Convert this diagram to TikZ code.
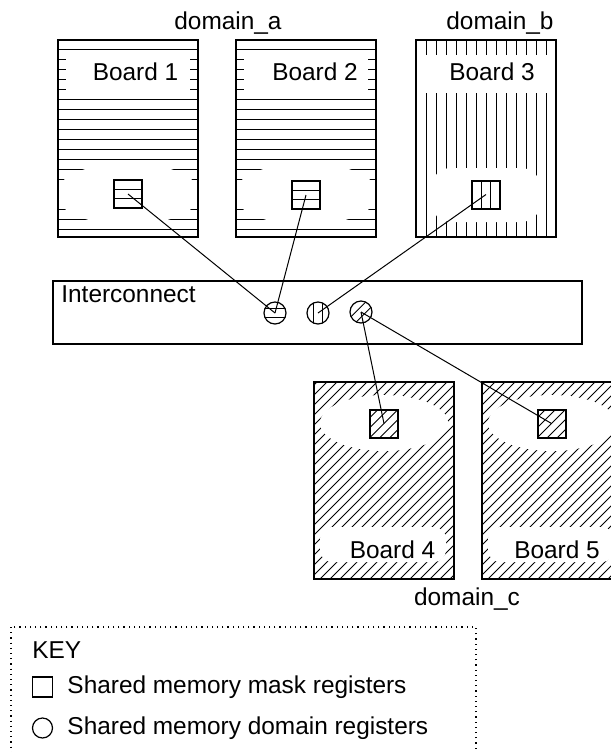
\documentclass[tikz,border=0pt]{standalone}
\usepackage{fontspec}
\setmainfont{Liberation Sans}
\usetikzlibrary{positioning}
\tikzset{%
  hatch/.style={line width=.45pt},%
  wire/.style={line width=.5pt},%
  board/.style={draw,line width=1pt,inner sep=0pt,minimum width=70pt,minimum height=98.5pt},%
  reg/.style={draw,fill=white,line width=1pt,inner sep=0pt,minimum size=14pt},%
  dom/.style={draw,circle,fill=white,line width=.6pt,inner sep=0pt,minimum size=11pt},%
  hlines/.style={path picture={%
    \foreach \d in {-2.4,2.4}
      \draw[hatch] ([yshift=\d pt]path picture bounding box.west) -- ([yshift=\d pt]path picture bounding box.east);}},%
  vlines/.style={path picture={%
    \foreach \d in {-2.4,2.4}
      \draw[hatch] ([xshift=\d pt]path picture bounding box.north) -- ([xshift=\d pt]path picture bounding box.south);}},%
  dlines/.style={path picture={%
    \foreach \d in {-10,-5,...,10}
      \draw[hatch] ([xshift=\d pt]path picture bounding box.center) +(-9pt,-9pt) -- +(9pt,9pt);}},%
  dlines2/.style={path picture={%
    \foreach \d in {-2.6,2.6}
      \draw[hatch] ([xshift=\d pt]path picture bounding box.center) +(-6pt,-6pt) -- +(6pt,6pt);}},%
}
\begin{document}
\begin{tikzpicture}[x=.5pt,y=-.5pt]%
        \useasboundingbox (0,0) rectangle (611,752); %%
        \tikzset{every node/.style={font=\fontsize{12.2}{14.5}\selectfont}} %%
        % board hatching
        \begin{scope}
        \clip (58,40) rectangle (198,237); %%
        \foreach \y in {49,59,...,229} \draw[hatch] (58,\y) -- (198,\y); %%
        \fill[white] (66,54) rectangle (190,94); %%
        \fill[white] (128,194) ellipse [x radius=36pt,y radius=15.5pt]; %%
        \end{scope}
        \begin{scope}
        \clip (236,40) rectangle (376,237); %%
        \foreach \y in {49,59,...,229} \draw[hatch] (236,\y) -- (376,\y); %%
        \fill[white] (244,54) rectangle (368,94); %%
        \fill[white] (306,194) ellipse [x radius=36pt,y radius=15.5pt]; %%
        \end{scope}
        \begin{scope}
        \clip (416,40) rectangle (556,237); %%
        \foreach \x in {426,436,...,546} \draw[hatch] (\x,40) -- (\x,237); %%
        \fill[white] (416,55) rectangle (556,93); %%
        \fill[white,rounded corners=10pt] (431,168) rectangle (541,222); %%
        \end{scope}
        \begin{scope}
        \clip (313,381) rectangle (454,579); %%
        \foreach \k in {318,328,...,660} \draw[hatch] (\k,381) -- ++(-198,198); %%
        \fill[white] (384,423) ellipse [x radius=32pt,y radius=14pt]; %%
        \fill[white,rounded corners=6pt] (320,527) rectangle (446,562); %%
        \end{scope}
        \begin{scope}
        \clip (481,381) rectangle (622,579); %%
        \foreach \k in {486,496,...,830} \draw[hatch] (\k,381) -- ++(-198,198); %%
        \fill[white] (552,423) ellipse [x radius=32pt,y radius=14pt]; %%
        \fill[white,rounded corners=6pt] (488,527) rectangle (614,562); %%
        \end{scope}
        % boards and interconnect
        \node[board] (b1) at (128,138.5) {}; %%
        \node[board] (b2) at (306,138.5) {}; %%
        \node[board] (b3) at (486,138.5) {}; %%
        \node[board] (b4) at (383.5,480) {}; %%
        \node[board] (b5) at (551.5,480) {}; %%
        \node[draw,line width=1pt,inner sep=0pt,minimum width=264.5pt,minimum height=31.5pt] (ic) at (317.5,312.5) {}; %%
        \begin{scope}[inner sep=0pt]
        \node (b1t) at (135.5,72) {Board 1}; %%
        \node (b2t) at (315,72) {Board 2}; %%
        \node (b3t) at (492,72) {Board 3}; %%
        \node (b4t) at (392.5,550) {Board 4}; %%
        \node (b5t) at (557,550) {Board 5}; %%
        \node[anchor=west] (ict) at (61,294) {Interconnect}; %%
        \node[anchor=base] (da) at (228,29) {domain\_a}; %%
        \node[anchor=base] (db) at (500,29) {domain\_b}; %%
        \node[anchor=base] (dc) at (467,605) {domain\_c}; %%
        \end{scope}
        % registers
        \node[reg,hlines] (sq1) at (128,194) {}; %%
        \node[reg,hlines] (sq2) at (306,195) {}; %%
        \node[reg,vlines] (sq3) at (486,194.5) {}; %%
        \node[reg,dlines] (sq4) at (384,423.5) {}; %%
        \node[reg,dlines] (sq5) at (551.5,423.5) {}; %%
        \node[dom,hlines] (c1) at (275,313) {}; %%
        \node[dom,vlines] (c2) at (318,313) {}; %%
        \node[dom,dlines2] (c3) at (361,312) {}; %%
        \draw[wire] (sq1.center) -- (c1.center); %%
        \draw[wire] (sq2.center) -- (c1.center); %%
        \draw[wire] (sq3.center) -- (c2.center); %%
        \draw[wire] (c3.center) -- (sq4.center); %%
        \draw[wire] (c3.center) -- (sq5.center); %%
        % key
        \draw[dotted,line width=.6pt] (11,627) rectangle (476,770); %%
        \node[anchor=west,inner sep=0pt] (keyt) at (32,650) {KEY}; %%
        \node[draw,line width=.6pt,inner sep=0pt,minimum size=10pt] (ksq) at (42.5,687) {}; %%
        \node[draw,circle,line width=.6pt,inner sep=0pt,minimum size=10pt] (kc) at (42.5,728) {}; %%
        \node[anchor=west,inner sep=0pt,right=7pt of ksq] (kt1) {Shared memory mask registers}; %%
        \node[anchor=west,inner sep=0pt,right=7pt of kc] (kt2) {Shared memory domain registers}; %%
        \end{tikzpicture}
\end{document}
